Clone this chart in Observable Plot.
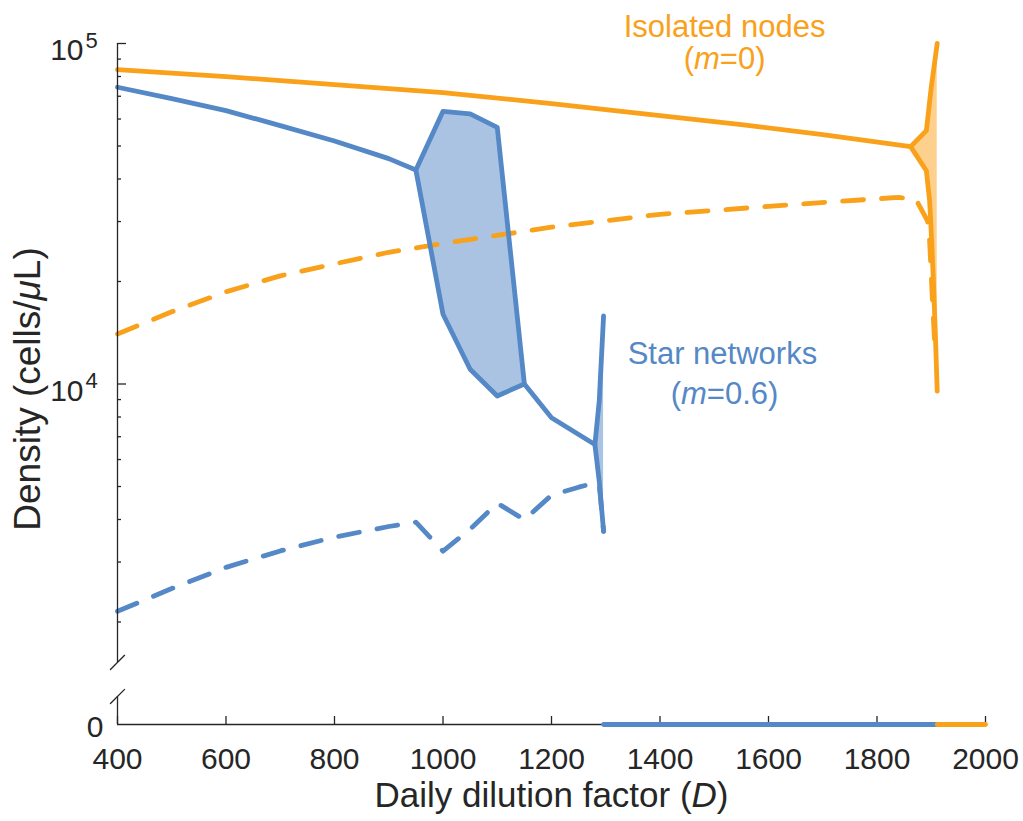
<!DOCTYPE html>
<html>
<head>
<meta charset="utf-8">
<script src="https://cdn.jsdelivr.net/npm/d3@7"></script>
<script src="https://cdn.jsdelivr.net/npm/@observablehq/plot@0.6"></script>
<style>
  html, body { margin: 0; padding: 0; background: #fff; }
  #chart { width: 1023px; height: 821px; }
</style>
</head>
<body>
<div id="chart"></div>
<script>
// ---------- data (D = daily dilution factor, density in cells/µL) ----------
// Isolated nodes (m = 0)
const isoStable = [[400,83850],[600,79960],[800,75750],[1000,71780],[1200,66620],[1350,62690],[1550,57790],[1700,54010],[1862,49780]];
const isoUpper  = [[1862,49780],[1891,55460],[1900,74400],[1911,100000]];
const isoLower  = [[1862,49780],[1891,42310],[1897,34510],[1899,30130],[1904,20080],[1908,13370],[1911,9530]];
const isoDashed = [[400,14030],[500,16290],[600,18650],[700,20780],[800,22530],[900,24370],[1000,25860],[1200,28880],[1400,31500],[1600,33230],[1800,34990],[1840,35320],[1872,34800],[1893,30160],[1897,26340],[1902,17910],[1906,13500]];
const isoExtinction = 1911;

// Star networks (m = 0.6)
const starStable = [[400,74390],[500,68890],[600,63520],[700,57400],[800,51700],[900,45900],[950,42510]];
const starUpper  = [[950,42510],[1000,63220],[1050,62130],[1100,56740],[1150,10000]];
const starLower  = [[950,42510],[1000,16030],[1050,11050],[1100,9220],[1150,10000]];
const starTail   = [[1150,10000],[1200,7960],[1280,6645]];
const starBranchUp   = [[1280,6645],[1288,8913],[1296,15850]];
const starBranchDown = [[1280,6645],[1288,5185],[1296,3694]];
const starDashed = [[400,2150],[500,2508],[600,2894],[700,3234],[800,3551],[900,3815],[950,3927],[1000,3228],[1050,3746],[1100,4467],[1150,3995],[1200,4716],[1250,4977],[1280,5125],[1288,5081],[1296,3694]];
const starExtinction = 1296;

// zero-density row (broken axis) and axis ticks
const xDomain = [400, 2000];
const zeroLevel = 1000;               // where "0" sits on the broken log axis
const axisBreak = [1522, 1209];       // upper / lower ends of the axis break
const xTicks = [400, 600, 800, 1000, 1200, 1400, 1600, 1800, 2000];
const yMajor = [10000, 100000];
const yMinor = [2000,3000,4000,5000,6000,7000,8000,9000,20000,30000,40000,50000,60000,70000,80000,90000];

const labels = [
  {D: 1519, v: 112100, text: "Isolated nodes", series: "iso"},
  {D: 1519, v: 90100,  text: "(m=0)",          series: "iso"},
  {D: 1515, v: 12220,  text: "Star networks",  series: "star"},
  {D: 1519, v: 9340,   text: "(m=0.6)",        series: "star"}
];

// ---------- styling ----------
const BLUE = "#5488c6", BLUE_FILL = "#aac3e3";
const ORANGE = "#f9a11a", ORANGE_FILL = "#fed08e";
const INK = "#262626";
const LW = 4.8;
const DASH = "21,18";

const W = 1023, H = 821;
const mL = 117, mR = 38, mT = 43, mB = 97;
const frameW = W - mL - mR, frameH = H - mT - mB;

const px = d => d[0], py = d => d[1];
const starPoly = starUpper.map((d, i) => ({D: d[0], hi: d[1], lo: starLower[i][1]}));
const isoFan = [...isoUpper].reverse().concat(isoLower.slice(1));
const starFan = [...starBranchUp].reverse().concat(starBranchDown.slice(1));

const slash = {draw(ctx, l) { ctx.moveTo(0, 0); ctx.lineTo(0, -l); }};

const chart = Plot.plot({
  width: W, height: H,
  marginLeft: mL, marginRight: mR, marginTop: mT, marginBottom: mB,
  x: {domain: xDomain, axis: null},
  y: {type: "log", domain: [zeroLevel, 100000], axis: null},
  style: {fontFamily: "'Liberation Sans', Arial, Helvetica, sans-serif", fontSize: "30px", color: INK, background: "#fff", overflow: "visible"},
  marks: [
    // fills
    Plot.areaY(starPoly, {x: "D", y1: "lo", y2: "hi", fill: BLUE_FILL}),
    Plot.areaX(isoFan, {y: py, x1: px, x2: () => isoExtinction, fill: ORANGE_FILL}),
    Plot.areaX(starFan, {y: py, x1: px, x2: () => starExtinction, fill: BLUE_FILL}),
    // dashed (unstable) branches
    Plot.line(isoDashed, {x: px, y: py, stroke: ORANGE, strokeWidth: LW, strokeDasharray: DASH}),
    Plot.line(starDashed, {x: px, y: py, stroke: BLUE, strokeWidth: LW, strokeDasharray: DASH}),
    // solid (stable) branches
    Plot.line(isoStable.concat(isoUpper.slice(1)), {x: px, y: py, stroke: ORANGE, strokeWidth: LW}),
    Plot.line(isoLower, {x: px, y: py, stroke: ORANGE, strokeWidth: LW}),
    Plot.line(starStable.concat(starUpper.slice(1), starTail.slice(1), starBranchUp.slice(1)), {x: px, y: py, stroke: BLUE, strokeWidth: LW}),
    Plot.line(starLower, {x: px, y: py, stroke: BLUE, strokeWidth: LW}),
    Plot.line(starBranchDown, {x: px, y: py, stroke: BLUE, strokeWidth: LW}),
    // axes
    Plot.ruleX([{x: xDomain[0], y1: 100000, y2: axisBreak[0]}, {x: xDomain[0], y1: axisBreak[1], y2: zeroLevel}], {x: "x", y1: "y1", y2: "y2", stroke: INK, strokeWidth: 1.3}),
    Plot.vector(axisBreak, {y: d => d, frameAnchor: "left", length: 20, rotate: 45, anchor: "middle", shape: slash, stroke: INK, strokeWidth: 1.3}),
    Plot.ruleY([zeroLevel], {stroke: INK, strokeWidth: 1.3}),
    Plot.tickX(xTicks, {x: d => d, insetTop: frameH - 8, stroke: INK, strokeWidth: 1.3}),
    Plot.tickY(yMajor, {y: d => d, insetRight: frameW - 9, stroke: INK, strokeWidth: 1.3}),
    Plot.tickY(yMinor, {y: d => d, insetRight: frameW - 4, stroke: INK, strokeWidth: 1.3}),
    // zero-density rows
    Plot.line([starExtinction, isoExtinction], {x: d => d, y: () => zeroLevel, stroke: BLUE, strokeWidth: LW}),
    Plot.line([isoExtinction, xDomain[1]], {x: d => d, y: () => zeroLevel, stroke: ORANGE, strokeWidth: LW}),
    // tick labels
    Plot.text(xTicks, {x: d => d, text: d => String(d), frameAnchor: "bottom", lineAnchor: "middle", dy: 35, fontSize: 30, fill: INK}),
    Plot.text(yMajor, {y: d => d, text: () => "10", frameAnchor: "left", lineAnchor: "middle", dx: -34, dy: 7, textAnchor: "end", fontSize: 30, fill: INK}),
    Plot.text(yMajor, {y: d => d, text: d => String(Math.round(Math.log10(d))), frameAnchor: "left", lineAnchor: "middle", dx: -32, dy: -3, textAnchor: "start", fontSize: 22, fill: INK}),
    Plot.text([zeroLevel], {y: d => d, text: () => "0", frameAnchor: "left", lineAnchor: "middle", dx: -14, dy: 3, textAnchor: "end", fontSize: 30, fill: INK}),
    // axis titles
    Plot.text(["Daily dilution factor (D)"], {text: d => d, frameAnchor: "bottom", lineAnchor: "middle", textAnchor: "middle", dy: 71.5, fontSize: 35, fill: INK}),
    Plot.text(["Density (cells/μL)"], {text: d => d, frameAnchor: "left", lineAnchor: "middle", textAnchor: "middle", dx: -89, dy: 5, rotate: -90, fontSize: 37, fill: INK}),
    // series labels
    Plot.text(labels, {x: "D", y: "v", text: "text", fontSize: 31, fill: d => d.series === "iso" ? ORANGE : BLUE})
  ]
});

// italicise math symbols in the labels (kept as real text)
chart.querySelectorAll("text").forEach(t => {
  if (t.querySelector("tspan")) return;
  const s = t.textContent;
  if (s === "Daily dilution factor (D)") {
    t.innerHTML = 'Daily dilution factor (<tspan font-style="italic">D</tspan>)';
  } else if (s === "Density (cells/μL)") {
    t.innerHTML = 'Density (cells/<tspan font-style="italic">μ</tspan>L)';
  } else if (s.startsWith("(m=")) {
    t.innerHTML = '(<tspan font-style="italic">m</tspan>' + s.slice(2);
  }
});

document.getElementById("chart").appendChild(chart);
</script>
</body>
</html>
